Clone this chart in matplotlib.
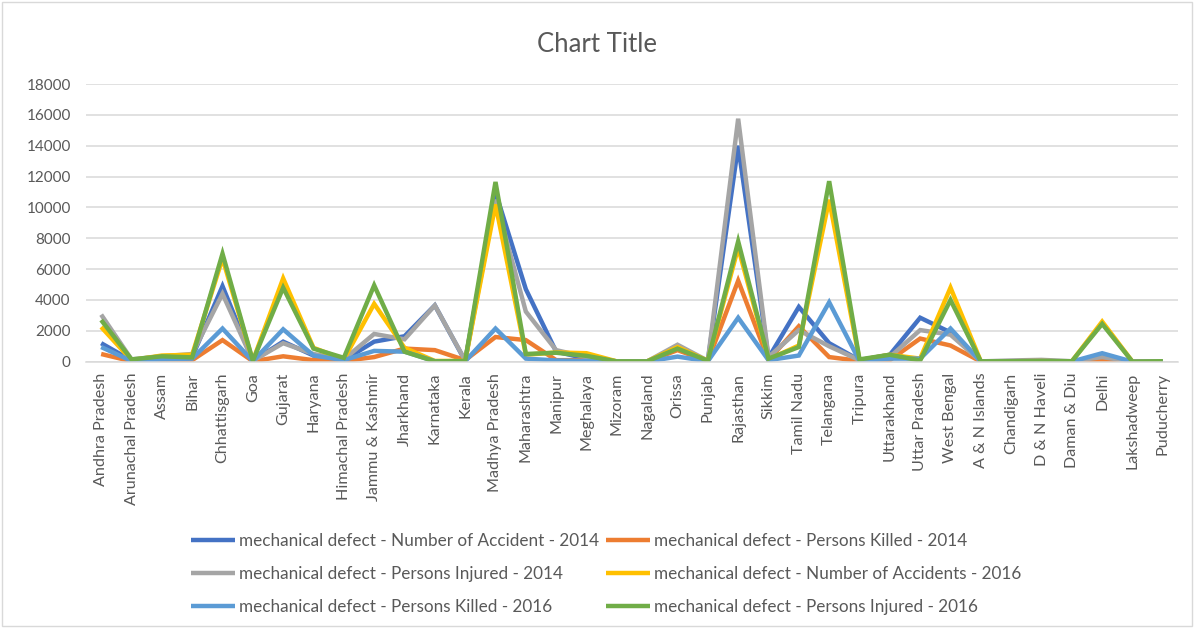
import numpy as np
import matplotlib
matplotlib.use('Agg')
import matplotlib.pyplot as plt
from matplotlib.patches import Rectangle

plt.rcParams['font.family'] = ['Lato', 'DejaVu Sans']

states = ['Andhra Pradesh', 'Arunachal Pradesh', 'Assam', 'Bihar', 'Chhattisgarh', 'Goa', 'Gujarat',
          'Haryana', 'Himachal Pradesh', 'Jammu & Kashmir', 'Jharkhand', 'Karnataka', 'Kerala',
          'Madhya Pradesh', 'Maharashtra', 'Manipur', 'Meghalaya', 'Mizoram', 'Nagaland', 'Orissa',
          'Punjab', 'Rajasthan', 'Sikkim', 'Tamil Nadu', 'Telangana', 'Tripura', 'Uttarakhand',
          'Uttar Pradesh', 'West Bengal', 'A & N Islands', 'Chandigarh', 'D & N Haveli', 'Daman & Diu',
          'Delhi', 'Lakshadweep', 'Puducherry']

accidents_2014 = [1200, 80, 200, 300, 4900, 50, 1300, 400, 100, 1300, 1650, 3650, 50, 11000, 4700, 650,
                  200, 20, 20, 900, 50, 14000, 250, 3550, 1200, 100, 450, 2850, 1900, 20, 30, 40, 20,
                  200, 0, 20]
killed_2014 = [500, 30, 50, 100, 1400, 30, 350, 100, 50, 300, 850, 750, 100, 1600, 1400, 100,
               100, 10, 10, 750, 30, 5250, 100, 2300, 300, 50, 100, 1500, 1050, 10, 20, 50, 10,
               100, 0, 10]
injured_2014 = [3050, 150, 350, 500, 4400, 60, 1200, 500, 150, 1800, 1450, 3650, 80, 10500, 3250, 750,
                300, 20, 20, 1100, 60, 15750, 300, 2050, 1000, 100, 300, 2050, 1750, 20, 80, 120, 30,
                300, 0, 20]
accidents_2016 = [2250, 100, 400, 450, 6700, 50, 5400, 900, 150, 3750, 900, 50, 50, 10200, 450, 600,
                  550, 20, 20, 950, 50, 7400, 150, 1050, 10500, 100, 450, 200, 4800, 20, 30, 40, 20,
                  2600, 0, 20]
killed_2016 = [950, 50, 150, 200, 2150, 30, 2100, 400, 100, 700, 650, 30, 30, 2150, 200, 80,
               50, 10, 10, 330, 30, 2850, 100, 400, 3850, 50, 200, 200, 2150, 10, 20, 20, 10,
               550, 0, 10]
injured_2016 = [2700, 150, 350, 280, 7000, 60, 4800, 850, 250, 4950, 650, 20, 50, 11650, 500, 580,
                380, 20, 20, 850, 60, 7800, 200, 950, 11700, 150, 450, 80, 4000, 20, 30, 50, 30,
                2450, 0, 30]

series = [
    ('mechanical defect - Number of Accident - 2014', accidents_2014, '#4472C4'),
    ('mechanical defect - Persons Killed - 2014', killed_2014, '#ED7D31'),
    ('mechanical defect - Persons Injured - 2014', injured_2014, '#A5A5A5'),
    ('mechanical defect - Number of Accidents - 2016', accidents_2016, '#FFC000'),
    ('mechanical defect - Persons Killed - 2016', killed_2016, '#5B9BD5'),
    ('mechanical defect - Persons Injured - 2016', injured_2016, '#70AD47'),
]

text_color = '#595959'
grid_color = '#D9D9D9'

fig = plt.figure(figsize=(11.94, 6.28), dpi=100)
ax = fig.add_axes([86 / 1194, 1 - 361.7 / 628, (1178 - 86) / 1194, (361.7 - 84) / 628])

x = np.arange(len(states))
handles = []
for name, vals, color in series:
    h, = ax.plot(x, vals, color=color, linewidth=3.2, label=name,
                 solid_joinstyle='miter', solid_capstyle='butt')
    handles.append(h)

ax.set_xlim(-0.5, len(states) - 0.5)
ax.set_ylim(0, 18000)
ax.set_yticks(np.arange(0, 18001, 2000))
ax.set_yticklabels([str(v) for v in range(0, 18001, 2000)])
ax.set_xticks(x)
ax.set_xticklabels(states, rotation=90)
ax.tick_params(axis='both', length=0, labelcolor=text_color)
ax.tick_params(axis='y', pad=11, labelsize=11)
ax.tick_params(axis='x', pad=8, labelsize=11.6)
ax.grid(True, axis='y', color=grid_color, linewidth=1.1)
ax.set_axisbelow(True)
for side in ['top', 'right', 'left']:
    ax.spines[side].set_visible(False)
ax.spines['bottom'].set_color(grid_color)
ax.spines['bottom'].set_linewidth(1.1)

fig.text(0.5, 1 - 44 / 628, 'Chart Title', ha='center', va='center', fontsize=18.5, color=text_color)

# legend filled row by row: reorder since matplotlib fills columns first
order = [0, 2, 4, 1, 3, 5]
fig.legend([handles[i] for i in order], [series[i][0] for i in order],
           loc='center', bbox_to_anchor=(606 / 1194, 1 - 574 / 628), ncol=2, frameon=False,
           fontsize=12.3, labelcolor=text_color, handlelength=2.6, handletextpad=0.2,
           columnspacing=0.4, labelspacing=1.0)

fig.patches.append(Rectangle((0.002, 0.003), 0.996, 0.994, transform=fig.transFigure,
                             fill=False, edgecolor=grid_color, linewidth=1.0))

fig.savefig('out.png', dpi=100)
